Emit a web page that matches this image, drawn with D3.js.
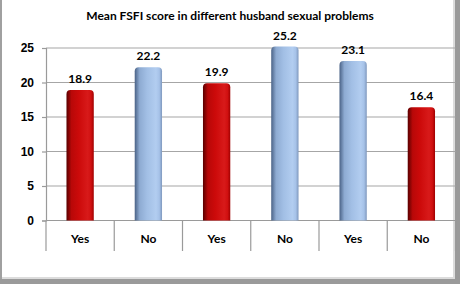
<!DOCTYPE html>
<html>
<head>
<meta charset="utf-8">
<script src="https://cdn.jsdelivr.net/npm/d3@7"></script>
<style>
  body { margin: 0; background: #fff; }
  svg { display: block; font-family: Lato, "Open Sans", sans-serif; }
</style>
</head>
<body>
<div id="container"></div>
<script>
// data
const categories = ["Yes", "No", "Yes", "No", "Yes", "No"];
const scores = [18.9, 22.2, 19.9, 25.2, 23.1, 16.4];
const barGroup = ["red", "blue", "red", "blue", "blue", "red"];
const yTicks = [0, 5, 10, 15, 20, 25];
const title = "Mean FSFI score in different husband sexual problems";

const width = 460, height = 284;
const margin = { top: 48, right: 5, bottom: 64, left: 46 };

const svg = d3.select("#container").append("svg")
  .attr("width", width)
  .attr("height", height);

// frame with shadow
svg.append("rect").attr("x", 0).attr("y", 0).attr("width", width).attr("height", height).attr("fill", "#fff");
svg.append("rect").attr("x", 0).attr("y", 0).attr("width", 2).attr("height", 282).attr("fill", "#a0a0a0");
svg.append("rect").attr("x", 455).attr("y", 0).attr("width", 5).attr("height", 284).attr("fill", "#9a9a9a");
svg.append("rect").attr("x", 0).attr("y", 279).attr("width", 460).attr("height", 5).attr("fill", "#9a9a9a");
svg.append("rect").attr("x", 453).attr("y", 0).attr("width", 2).attr("height", 279).attr("fill", "#dcdcdc");
svg.append("rect").attr("x", 2).attr("y", 277).attr("width", 453).attr("height", 2).attr("fill", "#dcdcdc");

const defs = svg.append("defs");
const grads = {
  red: [["0%", "#5a0000"], ["18%", "#b80808"], ["45%", "#cc0a0a"], ["78%", "#d81a1a"], ["90%", "#d01010"], ["100%", "#a00000"]],
  blue: [["0%", "#4a6286"], ["18%", "#8eabd2"], ["45%", "#a2bfe5"], ["78%", "#b2cdf0"], ["90%", "#a6c2e8"], ["100%", "#7f98bd"]]
};
Object.entries(grads).forEach(([k, stops]) => {
  const g = defs.append("linearGradient").attr("id", "g-" + k)
    .attr("x1", "0%").attr("x2", "100%").attr("y1", "0%").attr("y2", "0%");
  stops.forEach(s => g.append("stop").attr("offset", s[0]).attr("stop-color", s[1]));
});

const x = d3.scaleBand()
  .domain(d3.range(categories.length))
  .range([margin.left, width - margin.right + 0.5])
  .paddingInner(0).paddingOuter(0);

const y = d3.scaleLinear()
  .domain([0, 25])
  .range([220.5, 48]);

// gridlines
svg.append("g").selectAll("line")
  .data(yTicks.filter(d => d > 0))
  .join("line")
  .attr("x1", margin.left).attr("x2", x.range()[1])
  .attr("y1", d => y(d)).attr("y2", d => y(d))
  .attr("stroke", "#a6a6a6").attr("stroke-width", 1.2);

// y axis
const yAxis = svg.append("g")
  .attr("transform", `translate(${margin.left},0)`)
  .call(d3.axisLeft(y).tickValues(yTicks).tickSize(4).tickPadding(8));
yAxis.select(".domain").attr("stroke", "#9a9a9a").attr("stroke-width", 1.2);
yAxis.selectAll(".tick line").attr("stroke", "#9a9a9a").attr("stroke-width", 1.2);
yAxis.selectAll("text").attr("font-size", 12).attr("font-weight", "bold").attr("fill", "#000");

// x axis baseline and category dividers
svg.append("line")
  .attr("x1", margin.left).attr("x2", x.range()[1])
  .attr("y1", y(0)).attr("y2", y(0))
  .attr("stroke", "#9a9a9a").attr("stroke-width", 1.2);
svg.append("g").selectAll("line")
  .data(d3.range(categories.length + 1))
  .join("line")
  .attr("x1", d => d < categories.length ? x(d) : x.range()[1])
  .attr("x2", d => d < categories.length ? x(d) : x.range()[1])
  .attr("y1", y(0)).attr("y2", 251)
  .attr("stroke", "#9a9a9a").attr("stroke-width", 1.2);

svg.append("g").selectAll("text")
  .data(categories)
  .join("text")
  .attr("x", (d, i) => x(i) + x.bandwidth() / 2)
  .attr("y", 243)
  .attr("text-anchor", "middle")
  .attr("font-size", 12).attr("font-weight", "bold")
  .text(d => d);

// bars
const bw = x.bandwidth() * 0.4;
svg.append("g").selectAll("path")
  .data(scores)
  .join("path")
  .attr("d", (d, i) => {
    const x0 = x(i) + (x.bandwidth() - bw) / 2, x1 = x0 + bw;
    const top = y(d), bot = y(0), r = 4;
    return `M${x0},${bot}V${top + r}Q${x0},${top} ${x0 + r},${top}H${x1 - r}Q${x1},${top} ${x1},${top + r}V${bot}Z`;
  })
  .attr("fill", (d, i) => `url(#g-${barGroup[i]})`);

// value labels
svg.append("g").selectAll("text")
  .data(scores)
  .join("text")
  .attr("x", (d, i) => x(i) + x.bandwidth() / 2)
  .attr("y", d => y(d) - 7)
  .attr("text-anchor", "middle")
  .attr("font-size", 12).attr("font-weight", "bold")
  .text(d => d.toFixed(1));

// title
svg.append("text")
  .attr("x", 230).attr("y", 20)
  .attr("text-anchor", "middle")
  .attr("font-size", 12).attr("font-weight", "bold")
  .text(title);
</script>
</body>
</html>
